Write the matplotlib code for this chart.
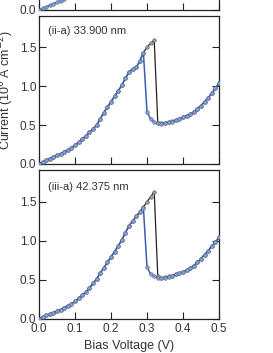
import numpy as np
import matplotlib.pyplot as plt

plt.rcParams['font.family'] = ['Liberation Sans', 'DejaVu Sans']

# bias voltage grid (V)
volts = [0.00, 0.01, 0.02, 0.03, 0.04, 0.05, 0.06, 0.07, 0.08, 0.09,
         0.10, 0.11, 0.12, 0.13, 0.14, 0.15, 0.16, 0.17, 0.18, 0.19,
         0.20, 0.21, 0.22, 0.23, 0.24, 0.25, 0.26, 0.27, 0.28, 0.29,
         0.30, 0.31, 0.32, 0.33, 0.34, 0.35, 0.36, 0.37, 0.38, 0.39,
         0.40, 0.41, 0.42, 0.43, 0.44, 0.45, 0.46, 0.47, 0.48, 0.49, 0.50]

# (i-a) panel, only the bottom strip is in frame
top_volts = [0.00, 0.01, 0.02, 0.03, 0.04, 0.05, 0.06, 0.07, 0.08, 0.09, 0.10]
top_cur = [0.00, 0.02, 0.04, 0.06, 0.08, 0.10, 0.12, 0.14, 0.17, 0.20, 0.23]

# (ii-a) 33.900 nm, forward (black) and backward (blue) sweeps
ii_fwd = [0.00, 0.025, 0.05, 0.07, 0.09, 0.11, 0.13, 0.155, 0.18, 0.21,
          0.24, 0.28, 0.32, 0.36, 0.405, 0.45, 0.50, 0.58, 0.66, 0.73,
          0.80, 0.87, 0.94, 1.01, 1.10, 1.18, 1.22, 1.24, 1.32, 1.43,
          1.50, 1.55, 1.59, 0.53, 0.52, 0.53, 0.54, 0.55, 0.565, 0.58,
          0.60, 0.62, 0.64, 0.67, 0.71, 0.75, 0.80, 0.85, 0.91, 0.97, 1.04]
ii_bwd = [0.00, 0.025, 0.05, 0.07, 0.09, 0.11, 0.13, 0.155, 0.18, 0.21,
          0.24, 0.28, 0.32, 0.36, 0.405, 0.45, 0.50, 0.58, 0.66, 0.73,
          0.80, 0.87, 0.94, 1.01, 1.10, 1.18, 1.22, 1.24, 1.32, 1.43,
          0.67, 0.58, 0.54, 0.52, 0.51, 0.525, 0.535, 0.545, 0.56, 0.58,
          0.60, 0.62, 0.64, 0.67, 0.71, 0.75, 0.80, 0.85, 0.91, 0.97, 1.04]

# (iii-a) 42.375 nm
iii_fwd = [0.00, 0.02, 0.04, 0.055, 0.075, 0.095, 0.115, 0.14, 0.165, 0.19,
           0.22, 0.26, 0.30, 0.34, 0.39, 0.45, 0.51, 0.58, 0.65, 0.72,
           0.79, 0.86, 0.93, 1.01, 1.10, 1.19, 1.25, 1.31, 1.37, 1.43,
           1.50, 1.56, 1.63, 0.54, 0.52, 0.53, 0.54, 0.55, 0.565, 0.58,
           0.60, 0.62, 0.65, 0.68, 0.72, 0.77, 0.82, 0.87, 0.93, 0.98, 1.04]
iii_bwd = [0.00, 0.02, 0.04, 0.055, 0.075, 0.095, 0.115, 0.14, 0.165, 0.19,
           0.22, 0.26, 0.30, 0.34, 0.39, 0.45, 0.51, 0.58, 0.65, 0.72,
           0.79, 0.86, 0.93, 1.01, 1.10, 1.19, 1.25, 1.31, 1.37, 1.42,
           0.66, 0.57, 0.54, 0.52, 0.515, 0.525, 0.535, 0.55, 0.565, 0.58,
           0.60, 0.62, 0.65, 0.68, 0.72, 0.77, 0.82, 0.87, 0.93, 0.98, 1.04]

y_ticks = [0.0, 0.5, 1.0, 1.5]
x_ticks = [0.0, 0.1, 0.2, 0.3, 0.4, 0.5]

blue = '#3a5eb0'
txt = '#333333'

fig = plt.figure(figsize=(2.73, 3.53), dpi=100)
W, H = 273, 353
left, width = 39 / W, 180 / W

def px_axes(top_px, bottom_px):
    return fig.add_axes([left, 1 - bottom_px / H, width, (bottom_px - top_px) / H])

ax_top = px_axes(-138, 10)
ax_mid = px_axes(16, 164)
ax_bot = px_axes(170.5, 318.5)

def sweep(ax, fwd, bwd, xs):
    if fwd is not None:
        ax.plot(xs, fwd, color='#222222', lw=0.9, marker='o', ms=2.6,
                mfc='#9a9a9a', mec='#666666', mew=0.4, zorder=2)
    ax.plot(xs, bwd, color=blue, lw=1.1, marker='o', ms=2.6,
            mfc='#8c9fc6', mec='#4b64a6', mew=0.4, zorder=3)

sweep(ax_top, None, top_cur, top_volts)
sweep(ax_mid, ii_fwd, ii_bwd, volts)
sweep(ax_bot, iii_fwd, iii_bwd, volts)

for ax in (ax_top, ax_mid, ax_bot):
    ax.set_xlim(0, 0.5)
    ax.set_ylim(0, 1.9)
    ax.set_xticks(x_ticks)
    ax.set_yticks(y_ticks)
    ax.tick_params(direction='in', length=5, width=0.8, colors='#222222',
                   labelcolor=txt, labelsize=8.5, left=True, right=True,
                   top=False, bottom=True, pad=2)
    ax.tick_params(axis='x', pad=3)
    ax.yaxis.set_major_formatter(plt.FormatStrFormatter('%.1f'))
    ax.xaxis.set_major_formatter(plt.FormatStrFormatter('%.1f'))
    for s in ax.spines.values():
        s.set_linewidth(0.9)
        s.set_color('#222222')

# only the 0.0 label of the top panel is inside the figure
ax_top.set_yticklabels(['0.0', '', '', ''])
ax_top.tick_params(labelbottom=False)
ax_mid.tick_params(labelbottom=False)

ax_mid.text(0.05, 0.90, '(ii-a) 33.900 nm', transform=ax_mid.transAxes,
            fontsize=8, color=txt, va='center')
ax_bot.text(0.05, 0.89, '(iii-a) 42.375 nm', transform=ax_bot.transAxes,
            fontsize=8, color=txt, va='center')

ax_mid.set_ylabel('Current (10$^6$ A cm$^{-2}$)', fontsize=9, color=txt)
ax_mid.yaxis.set_label_coords(-0.125, 0.5)
ax_bot.set_xlabel('Bias Voltage (V)', fontsize=9, color=txt, labelpad=4)

fig.savefig('out.png', dpi=100)
